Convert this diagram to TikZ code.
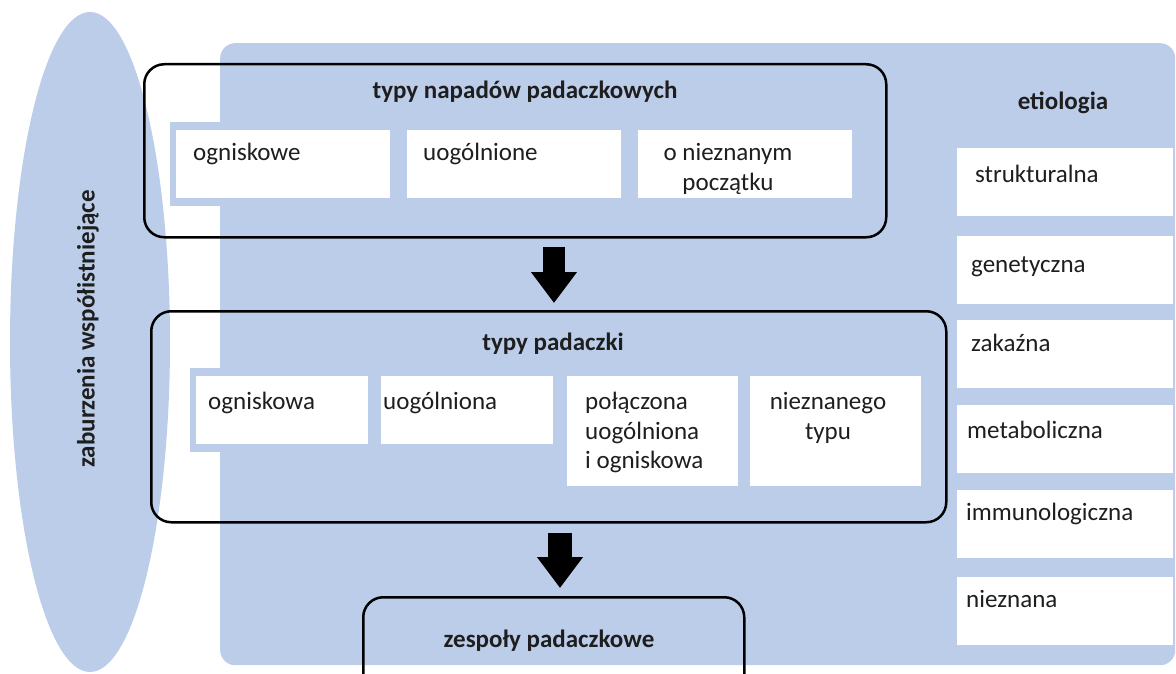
\documentclass[tikz,border=0pt]{standalone}
\usepackage{fontspec}
\setmainfont{Carlito}
\usetikzlibrary{arrows.meta,calc,shapes.geometric}
\definecolor{pblue}{RGB}{188,205,234}
\definecolor{txt}{RGB}{30,30,30}
\begin{document}
\begin{tikzpicture}[x=1pt,y=-1pt,
  wbox/.style={fill=white,draw=none,rectangle,inner sep=0pt,anchor=north west},
  backing/.style={fill=pblue,draw=none},
  frame/.style={draw=black,line width=2.5pt,rounded corners=20pt,rectangle,inner sep=0pt,anchor=north west},
  lbl/.style={inner sep=0pt,anchor=north west,text=txt,font=\fontsize{25}{29.5}\selectfont,align=left},
  clbl/.style={lbl,anchor=north,align=center},
  ttl/.style={inner sep=0pt,anchor=base,text=txt,font=\fontsize{25}{29.5}\selectfont\bfseries},
  bigarrow/.style={draw=black,line width=22pt,-{Triangle[width=44pt,length=31pt]}}
]
\useasboundingbox (0,0) rectangle (1176,674);
\clip (0,0) rectangle (1176,674);
\fill[white] (0,0) rectangle (1176,674);

% coexisting disorders ellipse
\node[ellipse,fill=pblue,draw=none,minimum width=160pt,minimum height=660pt,inner sep=0pt] (ell) at (90,342) {};
\node[rotate=90,inner sep=0pt,text=txt,font=\fontsize{25}{29.5}\selectfont\bfseries] (elltxt) at (88,329) {zaburzenia współistniejące};

% main panel
\node[fill=pblue,draw=none,rounded corners=15pt,rectangle,inner sep=0pt,anchor=north west,minimum width=955pt,minimum height=622pt] (panel) at (220,43) {};

% backing rows
\fill[backing] (170,122) rectangle (860,206);
\fill[backing] (190,368) rectangle (928,452);

% row 1 boxes
\node[wbox,minimum width=214pt,minimum height=68pt] (s1) at (176,130) {};
\node[wbox,minimum width=214pt,minimum height=68pt] (s2) at (407,130) {};
\node[wbox,minimum width=214pt,minimum height=68pt] (s3) at (638,130) {};
\node[lbl] at (193,140) {\strut ogniskowe};
\node[lbl] at (423,140) {\strut uogólnione};
\node[clbl] at (728,140) {\strut o nieznanym\\\strut początku};

% row 2 boxes
\node[wbox,minimum width=172pt,minimum height=68pt] (e1) at (196,376) {};
\node[wbox,minimum width=172pt,minimum height=68pt] (e2) at (381,376) {};
\node[wbox,minimum width=171pt,minimum height=110pt] (e3) at (567,376) {};
\node[wbox,minimum width=171pt,minimum height=110pt] (e4) at (750,376) {};
\node[lbl] at (208,389) {\strut ogniskowa};
\node[lbl] at (383,389) {\strut uogólniona};
\node[lbl] at (585,389) {\strut połączona\\\strut uogólniona\\\strut i ogniskowa};
\node[clbl] at (828,389) {\strut nieznanego\\\strut typu};

% etiology boxes
\node[wbox,minimum width=216pt,minimum height=68pt] (r1) at (957,148) {};
\node[wbox,minimum width=216pt,minimum height=68pt] (r2) at (957,236) {};
\node[wbox,minimum width=216pt,minimum height=68pt] (r3) at (957,320) {};
\node[wbox,minimum width=216pt,minimum height=68pt] (r4) at (957,405) {};
\node[wbox,minimum width=216pt,minimum height=68pt] (r5) at (957,490) {};
\node[wbox,minimum width=216pt,minimum height=68pt] (r6) at (957,577) {};
\node[lbl] at (975,162) {\strut strukturalna};
\node[lbl] at (971,252) {\strut genetyczna};
\node[lbl] at (971,331) {\strut zakaźna};
\node[lbl] at (967,418) {\strut metaboliczna};
\node[lbl] at (966,500) {\strut immunologiczna};
\node[lbl] at (966,587) {\strut nieznana};
\node[ttl] (etl) at (1063,110) {etiologia};

% frames
\node[frame,minimum width=742pt,minimum height=173pt] (f1) at (143,63) {};
\node[frame,minimum width=795pt,minimum height=211pt] (f2) at (150,310) {};
\node[frame,minimum width=381pt,minimum height=110pt] (f3) at (362,596) {};
\node[ttl] (t1) at (525,99) {typy napadów padaczkowych};
\node[ttl] (t2) at (553,350) {typy padaczki};
\node[ttl] (t3) at (549,647) {zespoły padaczkowe};

% arrows
\coordinate (a1s) at ($(f1.south west)+(411,8)$);
\coordinate (a1e) at ($(f2.north west)+(404,-7)$);
\coordinate (a2s) at ($(f2.south west)+(410,9)$);
\coordinate (a2e) at ($(f3.north west)+(198,-8)$);
\draw[bigarrow] (a1s) -- (a1s |- a1e);
\draw[bigarrow,line width=24pt] (a2s) -- (a2s |- a2e);
\end{tikzpicture}
\end{document}
